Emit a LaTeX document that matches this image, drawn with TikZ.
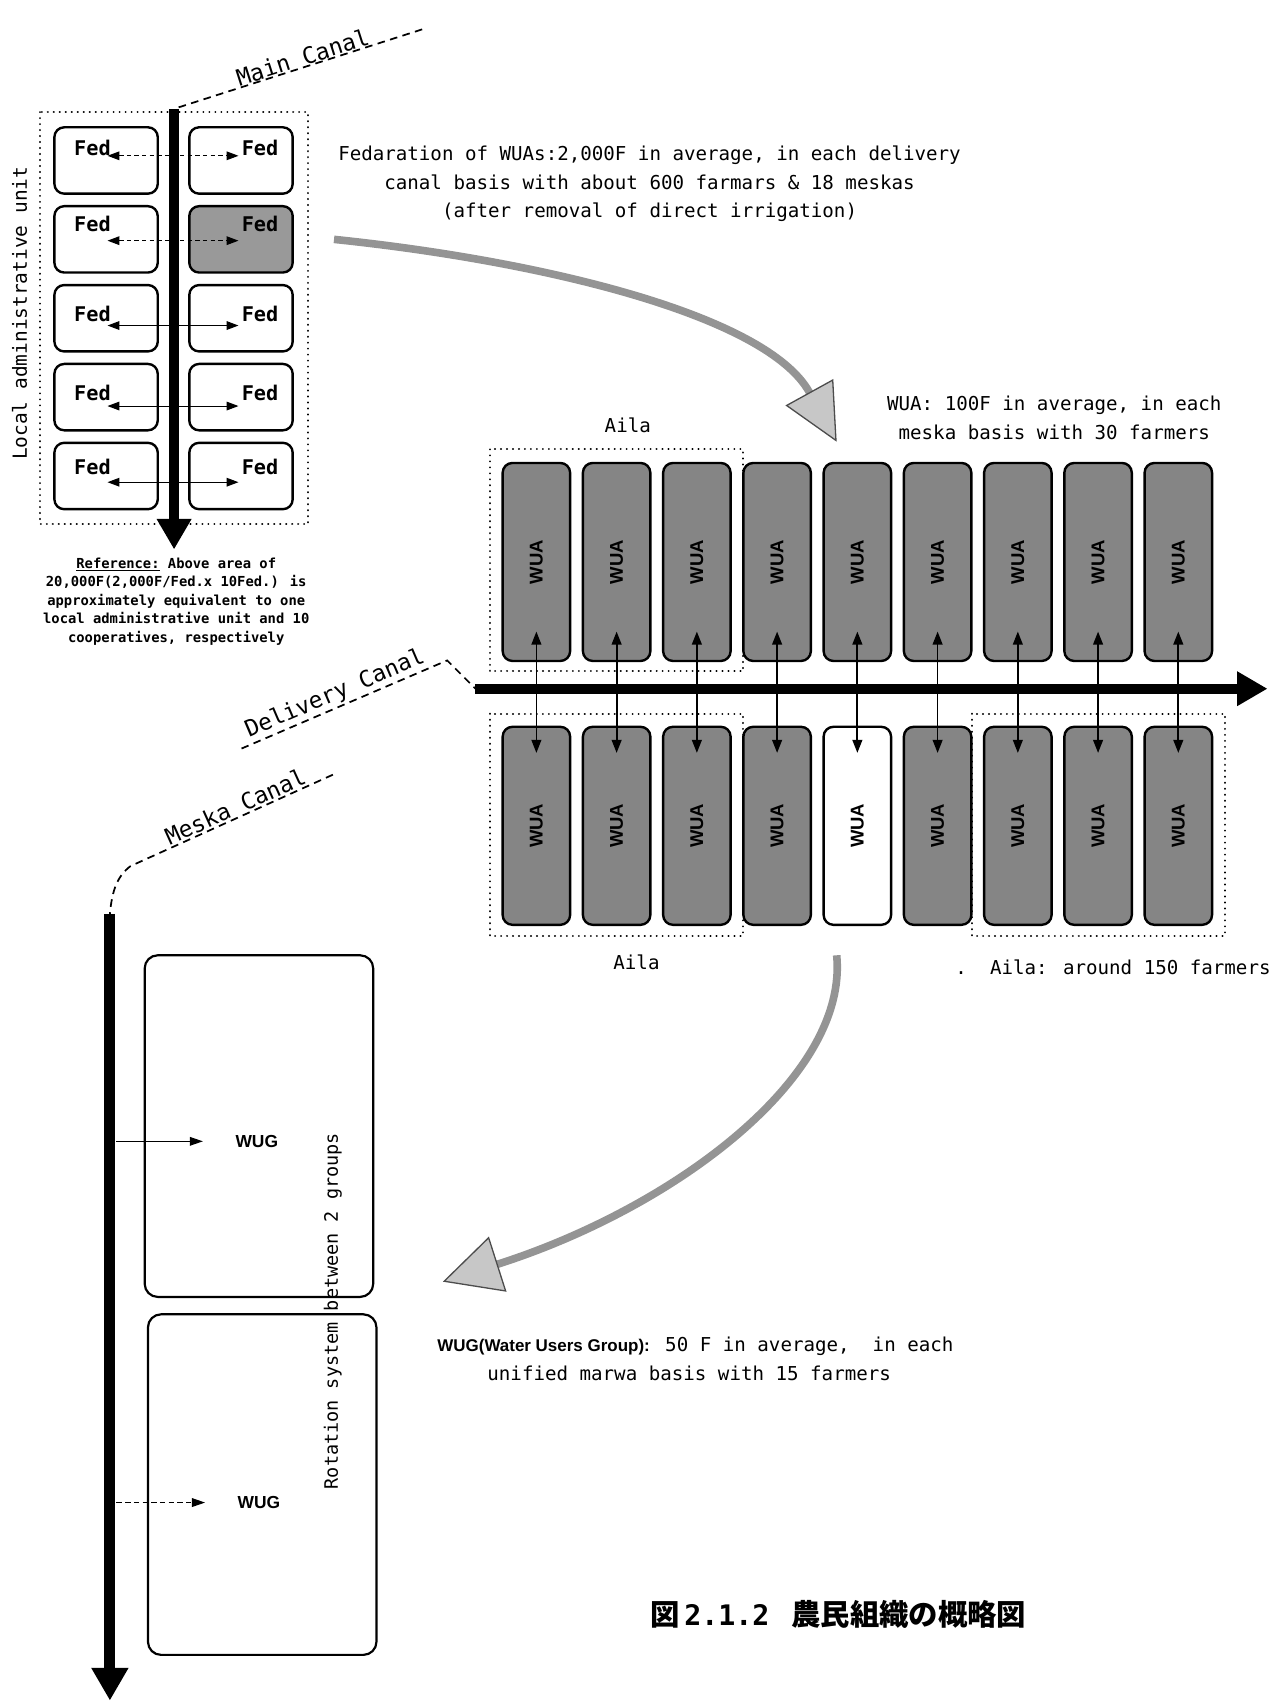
\documentclass[tikz,border=0pt]{standalone}
\usepackage{fontspec}
\setmainfont{DejaVu Sans Mono}
\newfontfamily\monof{DejaVu Sans Mono}
\newfontfamily\arialf{Liberation Sans}
\newfontfamily\cjkf{Noto Sans CJK JP}
\usetikzlibrary{arrows.meta}
\newcommand{\fsz}[2]{\fontsize{#1pt}{#2pt}\selectfont}
\tikzset{
  every node/.style={inner sep=0pt, outer sep=0pt},
  canalarrow/.style={line width=9pt, -{Triangle[width=30pt,length=28pt]}},
  canaldash/.style={line width=1.6pt, dash pattern=on 7pt off 5pt},
  dotbox/.style={line width=1.9pt, dash pattern=on 0.1pt off 5.4pt, line cap=round},
  fedbox/.style={draw, line width=2.2pt, rounded corners=9pt, minimum width=95pt, minimum height=61pt},
  fedtext/.style={font=\monof\bfseries\fsz{18.6}{20}},
  fedarr/.style={line width=1pt, {Triangle[width=8pt,length=11pt]}-{Triangle[width=8pt,length=11pt]}},
  wuabox/.style={draw, line width=2.2pt, rounded corners=9pt, minimum width=62pt, minimum height=182pt, fill=black!48},
  wuatext/.style={font=\arialf\bfseries\fsz{17}{20}, rotate=90},
  wuaarr/.style={line width=1.6pt, {Triangle[width=9pt,length=12pt]}-{Triangle[width=9pt,length=12pt]}},
  desc/.style={font=\monof\fsz{17.6}{26}, align=center},
  canallabel/.style={font=\monof\fsz{21}{24}},
  bigcurve/.style={line width=7pt, draw=black!42},
  wugbox/.style={draw, line width=2pt, rounded corners=12pt},
  wugarr/.style={line width=1pt, -{Triangle[width=8pt,length=12pt]}},
}
\begin{document}
\begin{tikzpicture}[x=1pt,y=-1pt]
\useasboundingbox (0,0) rectangle (1169,1568);
\fill[white] (0,0) rectangle (1169,1568);

% ---------------- Main canal / Federations ----------------
\coordinate (mcA) at (388,27);
\coordinate (mcB) at (160,100);
\coordinate (mcE) at (160,505);
\draw[canaldash] (mcA) -- (mcB);
\path (mcB) -- (mcA) node[pos=0.53, sloped, above=1pt, canallabel] (mclab) {Main Canal};

\draw[dotbox] (37,103) rectangle (283,482);

\node[fedbox] (L1) at (97.5,147.5) {};
\node[fedbox] (R1) at (221.5,147.5) {};
\node[fedbox] (L2) at (97.5,220) {};
\node[fedbox, fill=black!40] (R2) at (221.5,220) {};
\node[fedbox] (L3) at (97.5,292.5) {};
\node[fedbox] (R3) at (221.5,292.5) {};
\node[fedbox] (L4) at (97.5,365) {};
\node[fedbox] (R4) at (221.5,365) {};
\node[fedbox] (L5) at (97.5,437.5) {};
\node[fedbox] (R5) at (221.5,437.5) {};

\node[fedtext] (fL1) at (85,136) {Fed};
\node[fedtext] (fR1) at (239,136) {Fed};
\node[fedtext] (fL2) at (85,206) {Fed};
\node[fedtext] (fR2) at (239,206) {Fed};
\node[fedtext] (fL3) at (85,289) {Fed};
\node[fedtext] (fR3) at (239,289) {Fed};
\node[fedtext] (fL4) at (85,361) {Fed};
\node[fedtext] (fR4) at (239,361) {Fed};
\node[fedtext] (fL5) at (85,429) {Fed};
\node[fedtext] (fR5) at (239,429) {Fed};

\draw[fedarr, dash pattern=on 4pt off 3pt] ([shift={(-3pt,0pt)}]fL1.south east) -- ([shift={(-3pt,0pt)}]fR1.south west);
\draw[fedarr, dash pattern=on 4pt off 3pt] ([shift={(-3pt,-8pt)}]fL2.south east) -- ([shift={(-3pt,-8pt)}]fR2.south west);
\draw[fedarr] ([shift={(-3pt,-3pt)}]fL3.south east) -- ([shift={(-3pt,-3pt)}]fR3.south west);
\draw[fedarr] ([shift={(-3pt,-5pt)}]fL4.south east) -- ([shift={(-3pt,-5pt)}]fR4.south west);
\draw[fedarr] ([shift={(-3pt,-7pt)}]fL5.south east) -- ([shift={(-3pt,-7pt)}]fR5.south west);

\draw[canalarrow] (mcB) -- (mcE);

\node[rotate=90, font=\monof\fsz{17.9}{20}] (lau) at (18,288) {Local administrative unit};

\node[align=center, font=\monof\bfseries\fsz{12.7}{17}] (ref) at (162,553)
  {\underline{Reference:} Above area of\\20,000F(2,000F/Fed.x 10Fed.) is\\approximately equivalent to one\\local administrative unit and 10\\cooperatives, respectively};

\node[desc] (feddesc) at (597,169)
  {Fedaration of WUAs:2,000F in average, in each delivery\\canal basis with about 600 farmars \& 18 meskas\\(after removal of direct irrigation)};

% ---------------- Delivery canal / WUAs ----------------
\node[desc] (wuadesc) at (969,384) {WUA: 100F in average, in each\\meska basis with 30 farmers};
\node[desc] (aila1) at (577,391) {Aila};

\draw[dotbox] (450,413) rectangle (683,617);
\draw[dotbox] (450,656) rectangle (683,860);
\draw[dotbox] (893,656) rectangle (1126,860);

\foreach \i in {1,...,9} {
  \pgfmathsetmacro{\cx}{493+73.75*(\i-1)}
  \node[wuabox] (t\i) at (\cx,516.5) {};
  \node[wuatext] at (t\i) {WUA};
}
\foreach \i in {1,2,3,4,6,7,8,9} {
  \pgfmathsetmacro{\cx}{493+73.75*(\i-1)}
  \node[wuabox] (b\i) at (\cx,759) {};
  \node[wuatext] at (b\i) {WUA};
}
\node[wuabox, fill=white] (b5) at (788,759) {};
\node[wuatext] at (b5) {WUA};

\coordinate (dcA) at (222,688);
\coordinate (dcB) at (411,607);
\coordinate (dcC) at (437,633);
\coordinate (dcE) at (1165,633);
\draw[canaldash] (dcA) -- (dcB) -- (dcC);
\path (dcA) -- (dcB) node[pos=0.48, sloped, above=2pt, canallabel] (dclab) {Delivery Canal};
\draw[canalarrow] (dcC) -- (dcE);

\foreach \i in {1,...,9} {
  \draw[wuaarr] ([yshift=27pt]t\i.south) -- ([yshift=-24pt]b\i.north);
}

\node[desc] (aila2) at (585,884) {Aila};
\node[desc] (aila3) at (1023,889) {.\ \ Aila: around 150 farmers};

% ---------------- curved arrows ----------------
\coordinate (c1s) at ([xshift=38pt]R2.east);
\coordinate (c1e) at (769,406);
\draw[bigcurve, -{Triangle[width=50pt,length=52pt,fill=black!22,color=black!70,line width=1.2pt]}]
  (c1s) .. controls (500,240) and (705,290) .. (c1e);

\coordinate (c2s) at (769,878);
\coordinate (c2e) at (407,1178);
\draw[bigcurve, -{Triangle[width=53pt,length=53pt,fill=black!22,color=black!70,line width=1.2pt]}]
  (c2s) .. controls (780,990) and (620,1110) .. (c2e);

% ---------------- Meska canal / WUGs ----------------
\coordinate (mkA) at (306,712);
\coordinate (mkB) at (120,796);
\coordinate (mkC) at (101,840);
\coordinate (mkE) at (101,1563);
\draw[canaldash] (mkA) -- (mkB) .. controls (108,805) and (103,818) .. (mkC);
\path (mkB) -- (mkA) node[pos=0.54, sloped, above=2pt, canallabel] (mklab) {Meska Canal};
\draw[canalarrow, line width=10pt, -{Triangle[width=32pt,length=30pt]}] (mkC) -- (mkE);

\node[wugbox, minimum width=210pt, minimum height=314pt] (g1) at (238,1035) {};
\node[wugbox, minimum width=210pt, minimum height=313pt] (g2) at (241,1364.5) {};
\node[font=\arialf\bfseries\fsz{16}{18}] (wug1) at (236,1049) {WUG};
\node[font=\arialf\bfseries\fsz{16}{18}] (wug2) at (238,1381) {WUG};
\coordinate (ma1) at (107,1049);
\coordinate (ma2) at (107,1381);
\draw[wugarr] (ma1) -- ([xshift=-30pt]wug1.west);
\draw[wugarr, dash pattern=on 5pt off 3pt] (ma2) -- ([xshift=-30pt]wug2.west);
\node[rotate=90, font=\monof\fsz{17}{20}] (rot) at (306,1205) {Rotation system between 2 groups};

\node[anchor=west, font=\monof\fsz{17.6}{20}] (wugd1) at (402,1237)
  {{\arialf\bfseries\fsz{15.6}{18}WUG(Water Users Group):} 50 F in average,\ \ in each};
\node[anchor=west, font=\monof\fsz{17.6}{20}] (wugd2) at (448,1262) {unified marwa basis with 15 farmers};

\node[anchor=west] (cap) at (598,1484)
  {{\cjkf\bfseries\fsz{27}{30}図}\hspace{4pt}{\monof\bfseries\fsz{26}{30}2.1.2}\hspace{20pt}{\cjkf\bfseries\fsz{27}{30}農民組織の概略図}};
\end{tikzpicture}
\end{document}
